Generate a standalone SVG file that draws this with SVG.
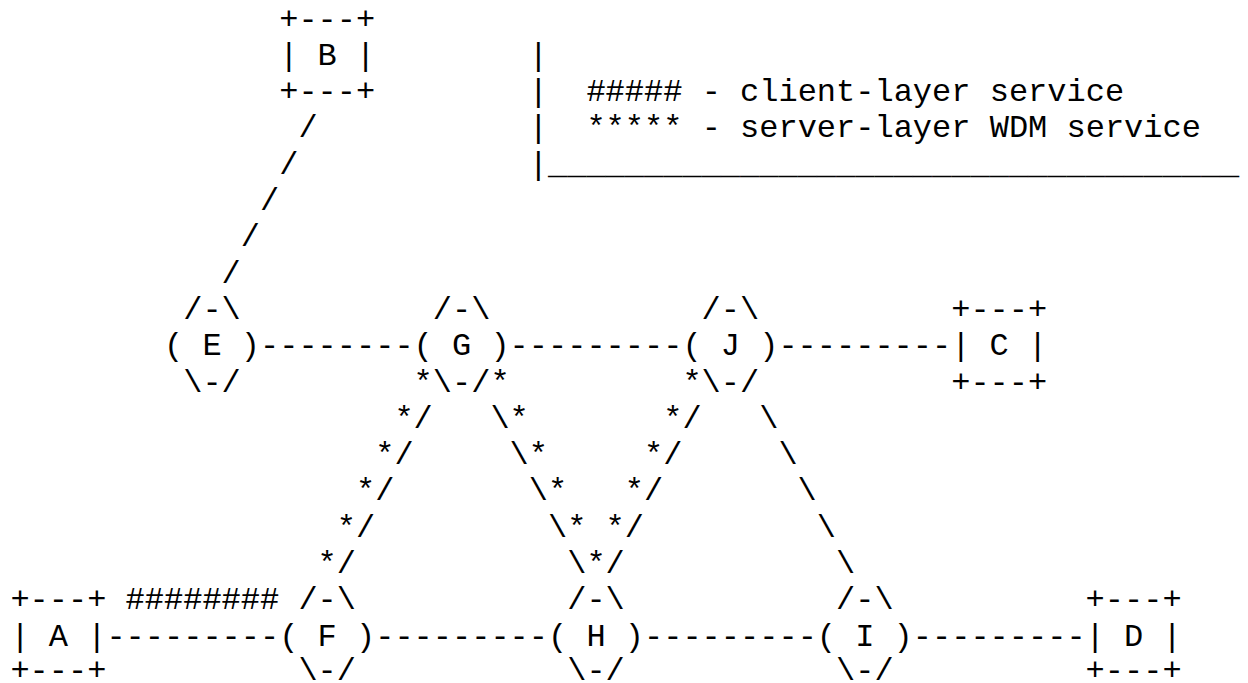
<svg xmlns="http://www.w3.org/2000/svg" width="1248" height="683" viewBox="0 0 1248 683">
<style>
text { font-family: "Liberation Mono", "DejaVu Sans Mono", monospace; font-size: 32px; fill: #000; white-space: pre; }
</style>
<rect width="1248" height="683" fill="#fff"/>
<g id="connectors" xml:space="preserve">
  <!-- B to E -->
  <text x="298.4" y="137.4">/</text>
  <text x="279.2" y="173.7">/</text>
  <text x="260" y="210">/</text>
  <text x="240.8" y="246.3">/</text>
  <text x="221.6" y="282.6">/</text>
  <!-- top horizontal links -->
  <text x="260" y="355.2">--------</text>
  <text x="509.6" y="355.2">---------</text>
  <text x="778.4" y="355.2">---------</text>
  <!-- star rows -->
  <text x="413.6" y="391.5">*</text>
  <text x="490.4" y="391.5">*</text>
  <text x="682.4" y="391.5">*</text>
  <text x="394.4" y="427.8">*/</text>
  <text x="490.4" y="427.8">\*</text>
  <text x="663.2" y="427.8">*/</text>
  <text x="759.2" y="427.8">\</text>
  <text x="375.2" y="464.1">*/</text>
  <text x="509.6" y="464.1">\*</text>
  <text x="644" y="464.1">*/</text>
  <text x="778.4" y="464.1">\</text>
  <text x="356" y="500.4">*/</text>
  <text x="528.8" y="500.4">\*</text>
  <text x="624.8" y="500.4">*/</text>
  <text x="797.6" y="500.4">\</text>
  <text x="336.8" y="536.7">*/</text>
  <text x="548" y="536.7">\* */</text>
  <text x="816.8" y="536.7">\</text>
  <text x="317.6" y="573">*/</text>
  <text x="567.2" y="573">\*/</text>
  <text x="836" y="573">\</text>
  <!-- client-layer service -->
  <text x="125.6" y="609.3">########</text>
  <!-- bottom horizontal links -->
  <text x="106.4" y="645.6">---------</text>
  <text x="375.2" y="645.6">---------</text>
  <text x="644" y="645.6">---------</text>
  <text x="912.8" y="645.6">---------</text>
</g>
<g id="legend" xml:space="preserve">
  <text x="528.8" y="64.8">|</text>
  <text x="528.8" y="101.1">|  ##### - client-layer service</text>
  <text x="528.8" y="137.4">|  ***** - server-layer WDM service</text>
  <text x="528.8" y="173.7">|____________________________________</text>
</g>
<g id="node-B" xml:space="preserve">
  <text x="279.2" y="28.5">+---+</text>
  <text x="279.2" y="64.8">| B |</text>
  <text x="279.2" y="101.1">+---+</text>
</g>
<g id="node-E" xml:space="preserve">
  <text x="183.2" y="318.9">/-\</text>
  <text x="164" y="355.2">( E )</text>
  <text x="183.2" y="391.5">\-/</text>
</g>
<g id="node-G" xml:space="preserve">
  <text x="432.8" y="318.9">/-\</text>
  <text x="413.6" y="355.2">( G )</text>
  <text x="432.8" y="391.5">\-/</text>
</g>
<g id="node-J" xml:space="preserve">
  <text x="701.6" y="318.9">/-\</text>
  <text x="682.4" y="355.2">( J )</text>
  <text x="701.6" y="391.5">\-/</text>
</g>
<g id="node-C" xml:space="preserve">
  <text x="951.2" y="318.9">+---+</text>
  <text x="951.2" y="355.2">| C |</text>
  <text x="951.2" y="391.5">+---+</text>
</g>
<g id="node-A" xml:space="preserve">
  <text x="10.4" y="609.3">+---+</text>
  <text x="10.4" y="645.6">| A |</text>
  <text x="10.4" y="680">+---+</text>
</g>
<g id="node-F" xml:space="preserve">
  <text x="298.4" y="609.3">/-\</text>
  <text x="279.2" y="645.6">( F )</text>
  <text x="298.4" y="680">\-/</text>
</g>
<g id="node-H" xml:space="preserve">
  <text x="567.2" y="609.3">/-\</text>
  <text x="548" y="645.6">( H )</text>
  <text x="567.2" y="680">\-/</text>
</g>
<g id="node-I" xml:space="preserve">
  <text x="836" y="609.3">/-\</text>
  <text x="816.8" y="645.6">( I )</text>
  <text x="836" y="680">\-/</text>
</g>
<g id="node-D" xml:space="preserve">
  <text x="1085.6" y="609.3">+---+</text>
  <text x="1085.6" y="645.6">| D |</text>
  <text x="1085.6" y="680">+---+</text>
</g>
</svg>
